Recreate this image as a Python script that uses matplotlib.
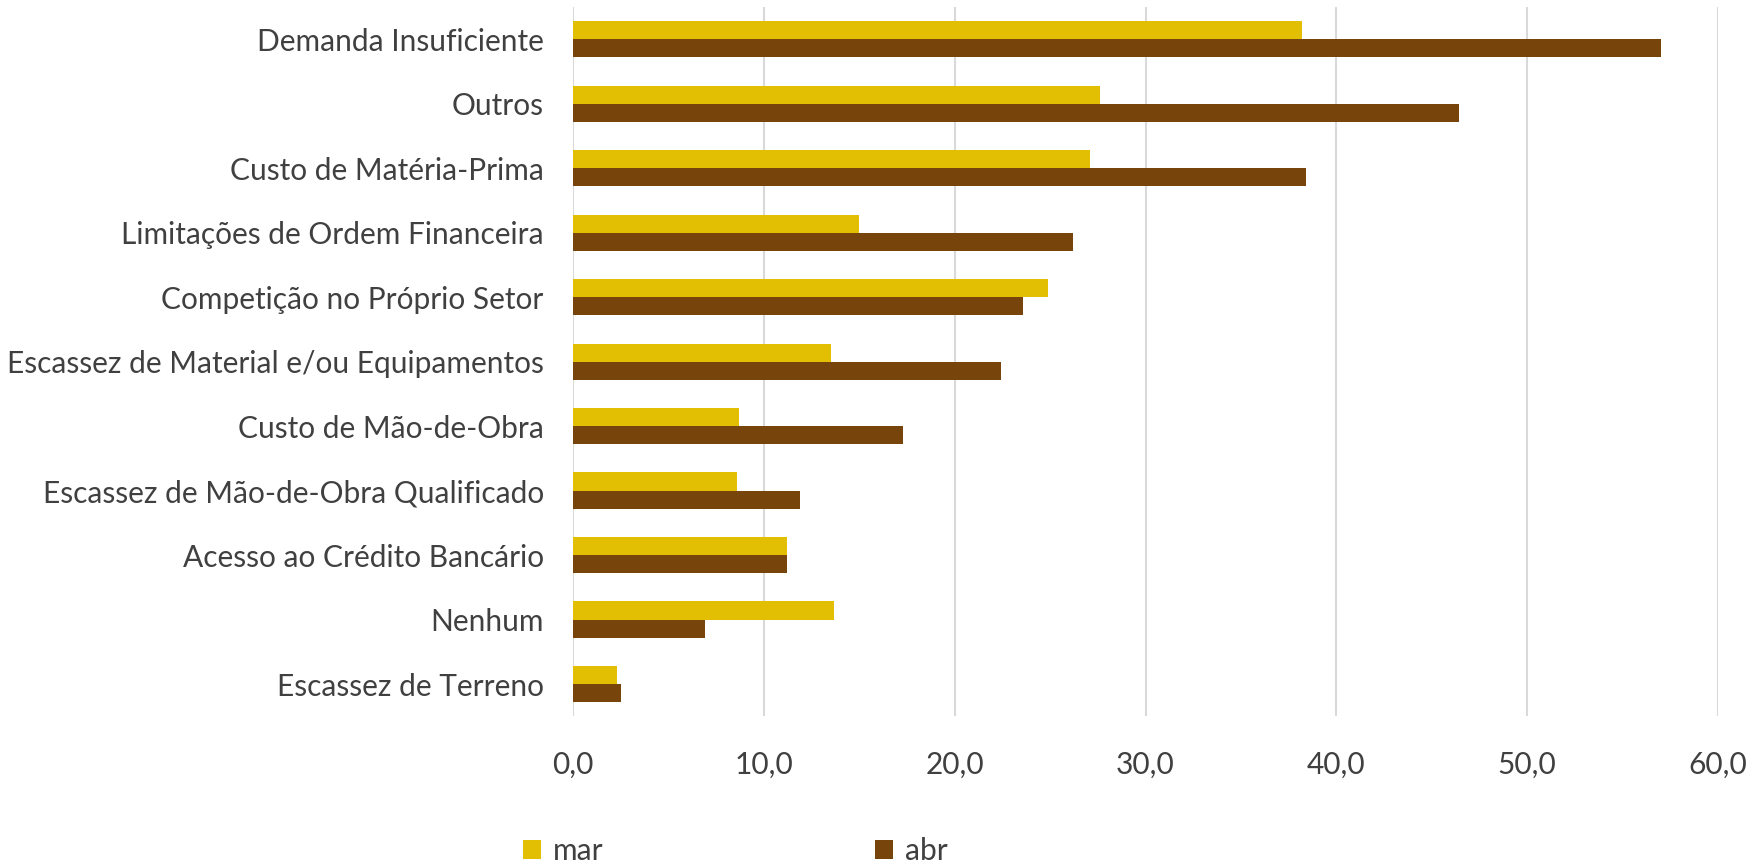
import matplotlib.pyplot as plt
import numpy as np

# motivos (de cima para baixo no gráfico)
categorias = [
    "Demanda Insuficiente",
    "Outros",
    "Custo de Matéria-Prima",
    "Limitações de Ordem Financeira",
    "Competição no Próprio Setor",
    "Escassez de Material e/ou Equipamentos",
    "Custo de Mão-de-Obra",
    "Escassez de Mão-de-Obra Qualificado",
    "Acesso ao Crédito Bancário",
    "Nenhum",
    "Escassez de Terreno",
]
mar = [38.2, 27.6, 27.1, 15.0, 24.9, 13.5, 8.7, 8.6, 11.2, 13.7, 2.3]
abr = [57.0, 46.4, 38.4, 26.2, 23.6, 22.4, 17.3, 11.9, 11.2, 6.9, 2.5]
xticks = [0, 10, 20, 30, 40, 50, 60]

cor_mar = "#E3BF04"
cor_abr = "#77450C"
cor_texto = "#404040"

plt.rcParams['font.family'] = ['Lato', 'DejaVu Sans']

fig = plt.figure(figsize=(17.54, 8.64), dpi=100)
ax = fig.add_axes([0.3267, 0.171, 0.6528, 0.821])

y = np.arange(len(categorias))
h = 0.28
ax.barh(y - h / 2, mar, height=h, color=cor_mar, label="mar", zorder=3)
ax.barh(y + h / 2, abr, height=h, color=cor_abr, label="abr", zorder=3)

ax.set_ylim(len(categorias) - 0.5, -0.5)
ax.set_xlim(0, 60)
ax.set_yticks(y)
ax.set_yticklabels(categorias, fontsize=21.5, color=cor_texto)
ax.set_xticks(xticks)
ax.set_xticklabels([f"{v:.1f}".replace(".", ",") for v in xticks],
                   fontsize=21.5, color=cor_texto)
ax.tick_params(axis='y', length=0, pad=21)
ax.tick_params(axis='x', length=0, pad=25)

ax.grid(axis='x', color="#d9d9d9", linewidth=1.5, zorder=0)
for s in ax.spines.values():
    s.set_visible(False)

leg = fig.legend(loc='center left', bbox_to_anchor=(0.283, 0.0145), ncol=2,
                 frameon=False, fontsize=21.5, columnspacing=9.1,
                 handlelength=0.6, handleheight=0.6, handletextpad=0.4)
for t in leg.get_texts():
    t.set_color(cor_texto)

fig.savefig("out.png", dpi=100)
